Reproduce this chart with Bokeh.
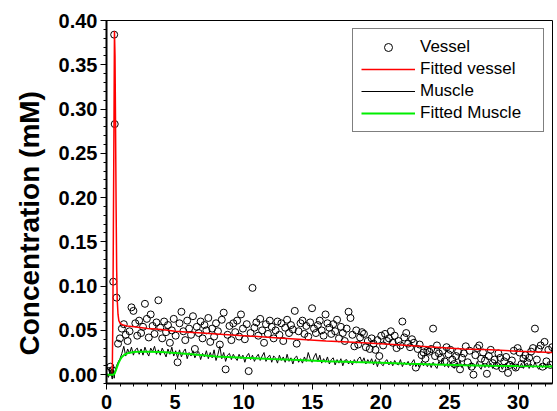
from bokeh.plotting import figure
from bokeh.models import Range1d, FixedTicker, NumeralTickFormatter, Legend, LegendItem, Title
from bokeh.embed import file_html
from bokeh.resources import INLINE

time = [
    0.00, 0.14, 0.28, 0.42, 0.49, 0.56, 0.60, 0.73, 0.84, 0.98,
    1.12, 1.26, 1.40, 1.54, 1.68, 1.82, 1.96, 2.10, 2.24, 2.38,
    2.52, 2.66, 2.80, 2.94, 3.08, 3.22, 3.36, 3.50, 3.64, 3.78,
    3.92, 4.06, 4.20, 4.34, 4.48, 4.62, 4.76, 4.90, 5.04, 5.18,
    5.32, 5.46, 5.60, 5.74, 5.88, 6.02, 6.16, 6.30, 6.44, 6.58,
    6.72, 6.86, 7.00, 7.14, 7.28, 7.42, 7.56, 7.70, 7.84, 7.98,
    8.12, 8.26, 8.40, 8.54, 8.68, 8.82, 8.96, 9.10, 9.24, 9.38,
    9.52, 9.66, 9.80, 9.94, 10.08, 10.22, 10.36, 10.50, 10.64, 10.78,
    10.92, 11.06, 11.20, 11.34, 11.48, 11.62, 11.76, 11.90, 12.04, 12.18,
    12.32, 12.46, 12.60, 12.74, 12.88, 13.02, 13.16, 13.30, 13.44, 13.58,
    13.72, 13.86, 14.00, 14.14, 14.28, 14.42, 14.56, 14.70, 14.84, 14.98,
    15.12, 15.26, 15.40, 15.54, 15.68, 15.82, 15.96, 16.10, 16.24, 16.38,
    16.52, 16.66, 16.80, 16.94, 17.08, 17.22, 17.36, 17.50, 17.64, 17.78,
    17.92, 18.06, 18.20, 18.34, 18.48, 18.62, 18.76, 18.90, 19.04, 19.18,
    19.32, 19.46, 19.60, 19.74, 19.88, 20.02, 20.16, 20.30, 20.44, 20.58,
    20.72, 20.86, 21.00, 21.14, 21.28, 21.42, 21.56, 21.70, 21.84, 21.98,
    22.12, 22.26, 22.40, 22.54, 22.68, 22.82, 22.96, 23.10, 23.24, 23.38,
    23.52, 23.66, 23.80, 23.94, 24.08, 24.22, 24.36, 24.50, 24.64, 24.78,
    24.92, 25.06, 25.20, 25.34, 25.48, 25.62, 25.76, 25.90, 26.04, 26.18,
    26.32, 26.46, 26.60, 26.74, 26.88, 27.02, 27.16, 27.30, 27.44, 27.58,
    27.72, 27.86, 28.00, 28.14, 28.28, 28.42, 28.56, 28.70, 28.84, 28.98,
    29.12, 29.26, 29.40, 29.54, 29.68, 29.82, 29.96, 30.10, 30.24, 30.38,
    30.52, 30.66, 30.80, 30.94, 31.08, 31.22, 31.36, 31.50, 31.64, 31.78,
    31.92, 32.06, 32.20, 32.34, 32.48,
]

vessel = [
    0.003, 0.004, 0.009, 0.005, 0.105, 0.384, 0.283, 0.087, 0.035, 0.041,
    0.052, 0.057, 0.045, 0.038, 0.049, 0.076, 0.072, 0.058, 0.044, 0.061,
    0.047, 0.054, 0.080, 0.063, 0.042, 0.068, 0.055, 0.046, 0.059, 0.084,
    0.053, 0.041, 0.060, 0.048, 0.056, 0.036, 0.050, 0.063, 0.044, 0.014,
    0.058, 0.071, 0.049, 0.039, 0.061, 0.052, 0.045, 0.066, 0.029, 0.054,
    0.047, 0.060, 0.041, 0.056, 0.050, 0.064, 0.037, 0.052, 0.043, 0.058,
    0.049, 0.034, 0.062, 0.070, 0.006, 0.045, 0.055, 0.039, 0.058, 0.048,
    0.061, 0.043, 0.068, 0.052, 0.040, 0.057, 0.004, 0.047, 0.098, 0.053,
    0.059, 0.044, 0.063, 0.050, 0.036, 0.057, 0.046, 0.061, 0.054, 0.041,
    0.050, 0.060, 0.045, 0.058, 0.038, 0.053, 0.062, 0.047, 0.056, 0.051,
    0.072, 0.035, 0.049, 0.058, 0.061, 0.046, 0.055, 0.043, 0.059, 0.075,
    0.052, 0.047, 0.056, 0.061, 0.050, 0.044, 0.068, 0.058, 0.053, 0.046,
    0.057, 0.049, 0.062, 0.041, 0.054, 0.047, 0.038, 0.052, 0.071, 0.064,
    0.045, 0.032, 0.050, 0.034, 0.042, 0.048, 0.046, 0.031, 0.038, 0.029,
    0.041, 0.035, 0.028, 0.039, 0.021, 0.044, 0.033, 0.046, 0.038, 0.041,
    0.049, 0.036, 0.044, 0.030, 0.038, 0.033, 0.060, 0.042, 0.047, 0.035,
    0.031, 0.040, 0.036, 0.008, 0.029, 0.034, 0.022, 0.025, 0.018, 0.027,
    0.026, 0.029, 0.052, 0.021, 0.033, 0.024, 0.019, 0.027, 0.015, 0.031,
    0.023, 0.028, 0.017, 0.012, 0.021, 0.026, 0.006, 0.019, 0.024, 0.032,
    0.014, 0.027, 0.009, 0.000, 0.022, 0.030, 0.033, 0.018, 0.025, 0.016,
    0.001, 0.021, 0.028, 0.013, 0.017, 0.010, 0.024, 0.019, 0.007, 0.015,
    0.020, 0.002, 0.011, 0.016, 0.027, 0.008, 0.030, 0.025, 0.012, 0.018,
    0.022, 0.014, 0.019, 0.026, 0.030, 0.052, 0.017, 0.029, 0.033, 0.009,
    0.037, 0.015, 0.028, 0.011, 0.031,
]

muscle = [
    0.001, -0.003, 0.005, -0.005, 0.006, -0.004, 0.003, 0.010, 0.014, 0.018,
    0.024, 0.032, 0.021, 0.029, 0.024, 0.031, 0.022, 0.028, 0.030, 0.023,
    0.029, 0.022, 0.031, 0.025, 0.021, 0.030, 0.026, 0.032, 0.023, 0.028,
    0.022, 0.030, 0.025, 0.020, 0.029, 0.023, 0.031, 0.021, 0.027, 0.019,
    0.028, 0.020, 0.026, 0.029, 0.018, 0.025, 0.021, 0.027, 0.019, 0.024,
    0.026, 0.017, 0.024, 0.020, 0.027, 0.018, 0.025, 0.019, 0.028, 0.016,
    0.023, 0.032, 0.018, 0.025, 0.015, 0.022, 0.024, 0.017, 0.023, 0.019,
    0.016, 0.023, 0.018, 0.022, 0.014, 0.021, 0.024, 0.017, 0.022, 0.015,
    0.020, 0.023, 0.016, 0.021, 0.025, 0.015, 0.020, 0.022, 0.014, 0.021,
    0.019, 0.013, 0.022, 0.016, 0.020, 0.014, 0.023, 0.015, 0.019, 0.012,
    0.019, 0.021, 0.014, 0.018, 0.013, 0.020, 0.015, 0.025, 0.018, 0.014,
    0.020, 0.024, 0.015, 0.022, 0.013, 0.018, 0.014, 0.020, 0.012, 0.017,
    0.019, 0.011, 0.017, 0.013, 0.018, 0.010, 0.016, 0.017, 0.012, 0.016,
    0.011, 0.017, 0.013, 0.018, 0.020, 0.014, 0.019, 0.012, 0.017, 0.013,
    0.018, 0.011, 0.017, 0.009, 0.016, 0.012, 0.010, 0.015, 0.017, 0.011,
    0.015, 0.010, 0.016, 0.012, 0.011, 0.017, 0.009, 0.014, 0.011, 0.015,
    0.010, 0.014, 0.017, 0.009, 0.013, 0.008, 0.015, 0.010, 0.014, 0.009,
    0.013, 0.008, 0.014, 0.010, 0.007, 0.015, 0.011, 0.017, 0.009, 0.012,
    0.008, 0.014, 0.010, 0.007, 0.013, 0.009, 0.016, 0.008, 0.012, 0.011,
    0.011, 0.007, 0.014, 0.010, 0.008, 0.015, 0.009, 0.006, 0.013, 0.008,
    0.012, 0.008, 0.013, 0.007, 0.011, 0.014, 0.008, 0.012, 0.006, 0.011,
    0.013, 0.007, 0.011, 0.014, 0.008, 0.005, 0.012, 0.008, 0.013, 0.007,
    0.011, 0.013, 0.007, 0.012, 0.008, 0.014, 0.009, 0.006, 0.012, 0.008,
    0.013, 0.007, 0.011, 0.012, 0.008,
]

fit_vessel_t = [0, 0.42, 0.46, 0.50, 0.54, 0.58, 0.62, 0.66, 0.70, 0.74,
                0.78, 0.84, 0.90, 1.00, 1.20, 1.50, 2, 3, 4, 5,
                6, 7, 8, 10, 12, 14, 16, 18, 20, 22,
                24, 26, 28, 30, 32.5]
fit_vessel = [0, 0, 0.06, 0.16, 0.27, 0.388, 0.36, 0.28, 0.19, 0.12,
              0.085, 0.068, 0.061, 0.058, 0.056, 0.055, 0.054, 0.052, 0.051, 0.049,
              0.048, 0.047, 0.046, 0.044, 0.042, 0.040, 0.038, 0.0365, 0.035, 0.033,
              0.031, 0.029, 0.028, 0.0265, 0.025]

fit_muscle_t = [0, 0.50, 0.58, 0.66, 0.75, 0.87, 1.0, 1.12, 1.3, 1.6,
                2.0, 2.5, 3, 4, 5, 6, 7, 8, 10, 12,
                14, 16, 18, 20, 22, 24, 26, 28, 30, 32.5]
fit_muscle = [0, 0, 0.001, 0.004, 0.008, 0.013, 0.017, 0.020, 0.0225, 0.0245,
              0.0255, 0.026, 0.026, 0.0255, 0.0245, 0.0232, 0.0218, 0.0205, 0.019, 0.0177,
              0.0165, 0.0152, 0.0142, 0.0133, 0.0123, 0.0114, 0.0107, 0.0101, 0.0097, 0.0093]

x_ticks = [0, 5, 10, 15, 20, 25, 30]
x_minor = list(range(0, 33))
y_ticks = [0.00, 0.05, 0.10, 0.15, 0.20, 0.25, 0.30, 0.35, 0.40]
y_minor = [round(-0.01 + 0.01 * i, 2) for i in range(42)]

FONT = "Liberation Sans"

p = figure(width=557, height=411, output_backend="svg", toolbar_location=None,
           x_range=Range1d(0, 32.5), y_range=Range1d(-0.01, 0.40),
           min_border_left=106, min_border_right=5, min_border_top=20, min_border_bottom=28)
p.grid.visible = False
p.background_fill_color = "white"
p.border_fill_color = "white"
p.outline_line_color = "black"
p.outline_line_width = 1
p.outline_line_alpha = 1

for ax in (p.xaxis[0], p.yaxis[0]):
    ax.axis_line_width = 2
    ax.axis_line_color = "black"
    ax.major_tick_out = 6
    ax.major_tick_in = 0
    ax.minor_tick_out = 3
    ax.minor_tick_in = 0
    ax.major_tick_line_width = 1
    ax.minor_tick_line_width = 1
    ax.major_label_text_font = FONT
    ax.major_label_text_font_style = "bold"
    ax.major_label_text_font_size = "20px"
    ax.major_label_text_color = "black"

p.xaxis.ticker = FixedTicker(ticks=x_ticks, minor_ticks=x_minor)
p.yaxis.ticker = FixedTicker(ticks=y_ticks, minor_ticks=y_minor)
p.yaxis.formatter = NumeralTickFormatter(format="0.00")
p.xaxis.major_label_standoff = 5
p.yaxis.major_label_standoff = 3

ylab = Title(text="Concentration (mM)", align="left", offset=28,
             text_font=FONT, text_font_style="bold", text_font_size="28px",
             text_color="black", standoff=22)
p.add_layout(ylab, "left")

r_v = p.scatter(time, vessel, marker="circle", size=7, line_color="black",
                line_width=1, fill_alpha=0)
r_fv = p.line(fit_vessel_t, fit_vessel, line_color="#ff0000", line_width=1.5)
r_m = p.line(time, muscle, line_color="black", line_width=1)
r_fm = p.line(fit_muscle_t, fit_muscle, line_color="#00ee00", line_width=2)

legend = Legend(items=[
    LegendItem(label="Vessel", renderers=[r_v]),
    LegendItem(label="Fitted vessel", renderers=[r_fv]),
    LegendItem(label="Muscle", renderers=[r_m]),
    LegendItem(label="Fitted Muscle", renderers=[r_fm]),
], location="top_right")
legend.margin = 8
legend.padding = 8
legend.spacing = 2
legend.glyph_width = 54
legend.glyph_height = 20
legend.label_height = 20
legend.label_width = 115
legend.label_standoff = 5
legend.label_text_font = FONT
legend.label_text_font_size = "17px"
legend.label_text_color = "black"
legend.border_line_color = "black"
legend.border_line_width = 1
legend.background_fill_color = "white"
legend.background_fill_alpha = 1
p.add_layout(legend)

open("out.html", "w").write(file_html(p, INLINE))
